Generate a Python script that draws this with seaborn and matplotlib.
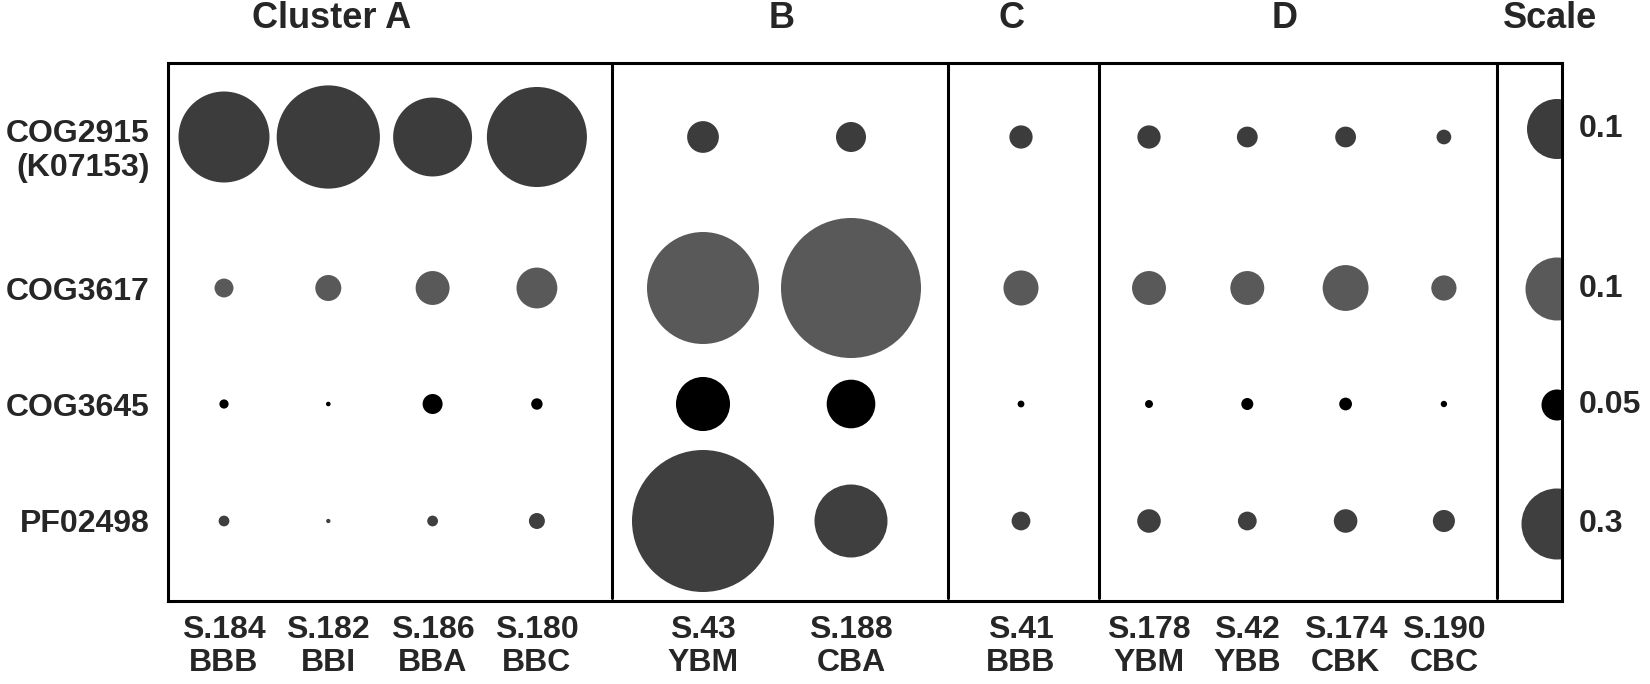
import numpy as np
import pandas as pd
import matplotlib
matplotlib.use("Agg")
import matplotlib.pyplot as plt
import matplotlib.transforms as mtransforms
import seaborn as sns

# Data: relative abundance per gene (rows) and sample (columns)
genes = ["COG2915\n(K07153)", "COG3617", "COG3645", "PF02498"]
samples = ["S.184", "S.182", "S.186", "S.180", "S.43", "S.188", "S.41",
           "S.178", "S.42", "S.174", "S.190"]
sites = ["BBB", "BBI", "BBA", "BBC", "YBM", "CBA", "BBB",
         "YBM", "YBB", "CBK", "CBC"]
clusters = ["A", "A", "A", "A", "B", "B", "C", "D", "D", "D", "D"]

cog2915 = [0.230, 0.296, 0.173, 0.278, 0.028, 0.025, 0.015, 0.015, 0.012, 0.012, 0.006]
cog3617 = [0.009, 0.017, 0.029, 0.042, 0.316, 0.494, 0.031, 0.029, 0.029, 0.053, 0.016]
cog3645 = [0.0044, 0.0011, 0.0208, 0.0068, 0.152, 0.123, 0.0024, 0.0033, 0.0075, 0.0085, 0.0021]
pf02498 = [0.0069, 0.0011, 0.0069, 0.0152, 1.2, 0.317, 0.021, 0.033, 0.021, 0.033, 0.029]
scale_values = [0.1, 0.1, 0.05, 0.3]
scale_labels = ["0.1", "0.1", "0.05", "0.3"]

values = [cog2915, cog3617, cog3645, pf02498]

# Layout (axes units are pixels of the 1650x684 canvas)
W, H, DPI = 1650, 684, 100
x_left, x_right, y_top, y_bottom = 168, 1562, 63, 601
cluster_layout = {"A": (224, 104.3), "B": (703, 148.0), "C": (1021, 0.0), "D": (1149, 98.3)}
separators = [612, 948, 1099, 1497]
row_y = [137, 288, 404, 521]
scale_row_y = [129, 289, 405, 524]
scale_x = 1557
ref_radius_px = [30, 31.5, 15.5, 35.5]
row_colors = ["#3c3c3c", "#595959", "#000000", "#3f3f3f"]
group_titles = [("Cluster A", 332), ("B", 782), ("C", 1012), ("D", 1285), ("Scale", 1550)]

col_x = []
seen = {}
for c in clusters:
    i = seen.get(c, 0)
    start, step = cluster_layout[c]
    col_x.append(start + i * step)
    seen[c] = i + 1

sns.set_style("white")
plt.rcParams["font.family"] = ["Liberation Sans", "DejaVu Sans"]
plt.rcParams["font.weight"] = "bold"

fig = plt.figure(figsize=(W / DPI, H / DPI), dpi=DPI)
ax = fig.add_axes([x_left / W, 1 - y_bottom / H,
                   (x_right - x_left) / W, (y_bottom - y_top) / H])
ax.set_xlim(x_left, x_right)
ax.set_ylim(y_bottom, y_top)

M = 8.0
for r, gene in enumerate(genes):
    df = pd.DataFrame({
        "x": col_x + [scale_x],
        "y": [row_y[r]] * len(samples) + [scale_row_y[r]],
        "value": values[r] + [scale_values[r]],
    })
    ref_area = (2 * ref_radius_px[r] * 72 / DPI) ** 2
    sns.scatterplot(data=df, x="x", y="y", size="value",
                    sizes=(0, ref_area * M), size_norm=(0, scale_values[r] * M),
                    color=row_colors[r], linewidth=0, legend=False, ax=ax)
    ax.text(1579, scale_row_y[r], scale_labels[r], ha="left", va="center",
            fontsize=23, fontweight="bold", clip_on=False)

for sx in separators:
    ax.axvline(sx, color="black", lw=2.2, ymin=0.006)

for name, cx in group_titles:
    ax.text(cx, 18, name, ha="center", va="center", fontsize=26,
            fontweight="bold", clip_on=False)

ax.set_xticks(col_x)
ax.set_xticklabels([f"{s}\n{t}" for s, t in zip(samples, sites)],
                   fontsize=23, fontweight="bold", linespacing=1.12)
ax.set_yticks(row_y)
ax.set_yticklabels(genes, fontsize=23, fontweight="bold", linespacing=1.15)
ax.tick_params(axis="both", length=0)
ax.tick_params(axis="x", pad=10)
ax.tick_params(axis="y", pad=13)
ax.set_xlabel("")
ax.set_ylabel("")

# shift the two-line label slightly down, as in the original
lab = ax.get_yticklabels()[0]
lab.set_transform(lab.get_transform() +
                  mtransforms.ScaledTranslation(0, -9 / DPI, fig.dpi_scale_trans))

for sp in ax.spines.values():
    sp.set_visible(True)
    sp.set_linewidth(2.2)
    sp.set_color("black")

fig.savefig("out.png", dpi=DPI)
